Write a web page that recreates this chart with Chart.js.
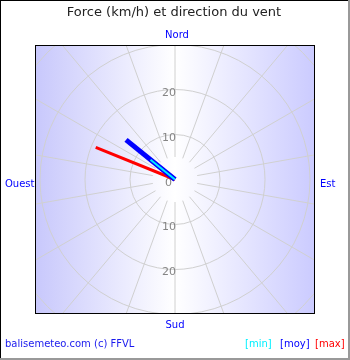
<!DOCTYPE html>
<html>
<head>
<meta charset="utf-8">
<script src="https://cdn.jsdelivr.net/npm/chart.js@4/dist/chart.umd.min.js"></script>
<style>
  body { margin: 0; background: #fff; }
  canvas { display: block; }
</style>
</head>
<body>
<canvas id="vent" width="350" height="360"></canvas>
<script>
// Données du vent (direction en degrés depuis le nord, force en km/h)
const minDir = [309];
const minForce = [7];
const moyDir = [309];
const moyForce = [14];
const maxDir = [292];
const maxForce = [19];

// Cercles de la grille et étiquettes
const cercles = [10, 20, 30, 40];
const etiquettes = [0, 10, 20];
const rayons = Array.from({ length: 18 }, (_, i) => i * 20); // rayons tous les 20°
const points = ['Nord', 'Est', 'Sud', 'Ouest'];
const legende = ['[min]', '[moy]', '[max]'];
const couleurs = ['#00f0ff', '#0000ff', '#ff0000'];

// Conversion direction/force -> segment depuis le centre
function segments(dirs, forces) {
    const pts = [];
    dirs.forEach((d, i) => {
        const a = d * Math.PI / 180;
        pts.push({ x: 0, y: 0 });
        pts.push({ x: forces[i] * Math.sin(a), y: forces[i] * Math.cos(a) });
    });
    return pts;
}

const k = 4.5; // pixels par km/h
const fond = {
    id: 'fond',
    beforeDatasetsDraw(chart) {
        const { ctx, chartArea: a, scales } = chart;
        const sx = scales.x, sy = scales.y;
        const cx = sx.getPixelForValue(0), cy = sy.getPixelForValue(0);
        ctx.save();
        // dégradé horizontal
        const g = ctx.createLinearGradient(a.left, 0, a.right, 0);
        g.addColorStop(0, '#c8c8fc');
        g.addColorStop(0.5, '#ffffff');
        g.addColorStop(1, '#cbcbff');
        ctx.fillStyle = g;
        ctx.fillRect(a.left, a.top, a.right - a.left, a.bottom - a.top);
        ctx.beginPath();
        ctx.rect(a.left, a.top, a.right - a.left, a.bottom - a.top);
        ctx.clip();
        ctx.strokeStyle = '#d0d0d0';
        ctx.lineWidth = 1;
        cercles.forEach(v => {
            const r = sx.getPixelForValue(v) - cx;
            ctx.beginPath();
            ctx.arc(cx, cy, r, 0, Math.PI * 2);
            ctx.stroke();
        });
        rayons.forEach(d => {
            const t = d * Math.PI / 180;
            ctx.beginPath();
            ctx.moveTo(sx.getPixelForValue(5 * Math.sin(t)), sy.getPixelForValue(5 * Math.cos(t)));
            ctx.lineTo(sx.getPixelForValue(45 * Math.sin(t)), sy.getPixelForValue(45 * Math.cos(t)));
            ctx.stroke();
        });
        // étiquettes de force
        ctx.fillStyle = '#858585';
        ctx.font = '11px "DejaVu Sans"';
        ctx.textAlign = 'right';
        ctx.textBaseline = 'middle';
        etiquettes.forEach(v => {
            if (v === 0) {
                ctx.fillText('0', cx - 3, cy + 4);
                return;
            }
            ctx.fillText(String(v), cx + 1, sy.getPixelForValue(v) + 4);
            ctx.fillText(String(v), cx + 1, sy.getPixelForValue(-v) + 3);
        });
        ctx.restore();
    },
    afterDraw(chart) {
        const { ctx, chartArea: a } = chart;
        ctx.save();
        ctx.strokeStyle = '#000';
        ctx.lineWidth = 1;
        ctx.strokeRect(a.left + 0.5, a.top + 0.5, a.right - a.left - 1, a.bottom - a.top);
        // bordure de l'image
        ctx.fillStyle = '#000';
        ctx.fillRect(0, 0, 350, 1);
        ctx.fillRect(0, 0, 1, 360);
        ctx.fillStyle = '#999';
        ctx.fillRect(348, 0, 2, 360);
        ctx.fillRect(0, 358, 350, 2);
        // titre
        ctx.fillStyle = '#222';
        ctx.font = '13px "DejaVu Sans"';
        ctx.textAlign = 'center';
        ctx.textBaseline = 'alphabetic';
        ctx.fillText('Force (km/h) et direction du vent', 174, 16);
        // points cardinaux
        ctx.fillStyle = '#0000ff';
        ctx.font = '10px "DejaVu Sans"';
        ctx.fillText(points[0], 177, 38);
        ctx.fillText(points[2], 175, 328);
        ctx.textAlign = 'left';
        ctx.fillText(points[1], 320, 187);
        ctx.fillText(points[3], 5, 187);
        // pied
        ctx.fillStyle = '#1a1aee';
        ctx.fillText('balisemeteo.com (c) FFVL', 5, 347);
        const xs = [245, 280, 315];
        legende.forEach((t, i) => {
            ctx.fillStyle = couleurs[i];
            ctx.fillText(t, xs[i], 347);
        });
        ctx.restore();
    }
};

new Chart(document.getElementById('vent'), {
    type: 'scatter',
    data: {
        datasets: [
            { label: 'min', data: segments(minDir, minForce), showLine: true, borderColor: '#00f0ff', borderWidth: 2, pointRadius: 0 },
            { label: 'moy', data: segments(moyDir, moyForce), showLine: true, borderColor: '#0000ff', borderWidth: 5, pointRadius: 0 },
            { label: 'max', data: segments(maxDir, maxForce), showLine: true, borderColor: '#ff0000', borderWidth: 3, pointRadius: 0 }
        ]
    },
    options: {
        responsive: false,
        animation: false,
        layout: { padding: { left: 35, right: 35, top: 45, bottom: 47 } },
        scales: {
            x: { display: false, min: -140 / k, max: 140 / k },
            y: { display: false, min: -133.5 / k, max: 134.5 / k }
        },
        plugins: { legend: { display: false }, title: { display: false }, tooltip: { enabled: false } }
    },
    plugins: [fond]
});
</script>
</body>
</html>
